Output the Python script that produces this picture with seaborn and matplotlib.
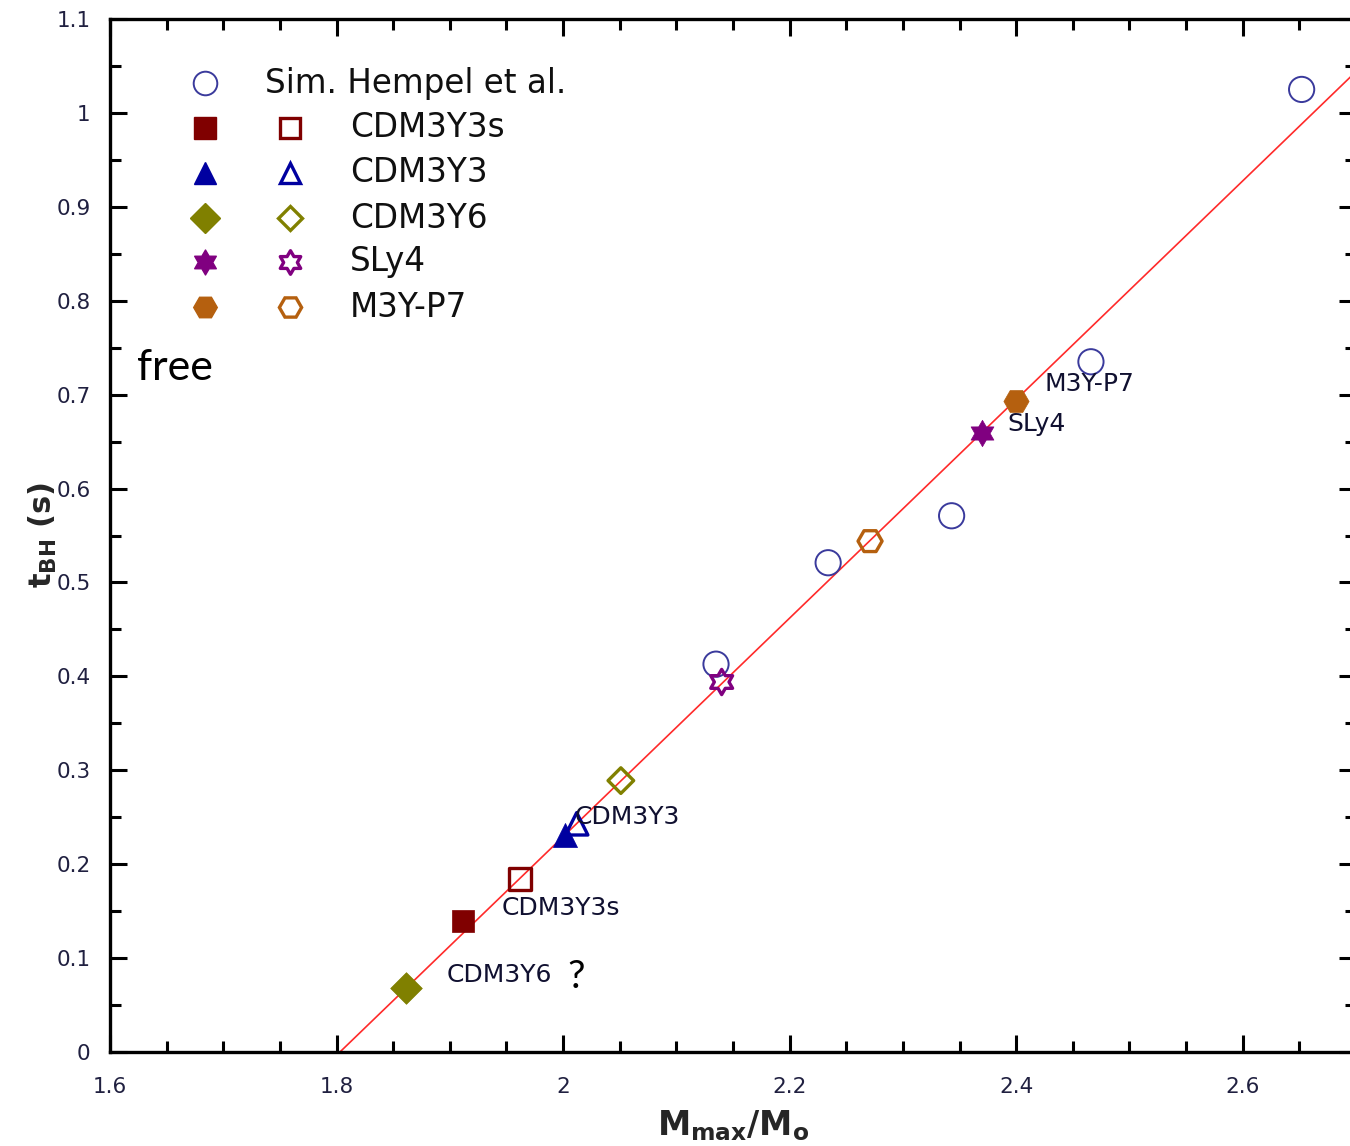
import numpy as np
import pandas as pd
import matplotlib
matplotlib.use("Agg")
import matplotlib.pyplot as plt
from matplotlib.path import Path
import seaborn as sns

# ---------------- data ----------------
hempel_x = [2.135, 2.234, 2.343, 2.466, 2.652]
hempel_y = [0.413, 0.521, 0.571, 0.735, 1.025]

models = ["CDM3Y3s", "CDM3Y3", "CDM3Y6", "SLy4", "M3Y-P7"]
filled_x = [1.912, 2.002, 1.861, 2.370, 2.400]
filled_y = [0.140, 0.231, 0.068, 0.659, 0.693]
open_x = [1.962, 2.012, 2.051, 2.140, 2.271]
open_y = [0.184, 0.243, 0.289, 0.394, 0.544]

fit_x = [1.803, 2.70]
fit_y = [0.0, 1.044]

annot_labels = ["M3Y-P7", "SLy4", "CDM3Y3", "CDM3Y3s", "CDM3Y6"]
annot_x = [2.425, 2.392, 2.010, 1.946, 1.897]
annot_y = [0.711, 0.669, 0.250, 0.153, 0.082]

x_ticks = [1.6, 1.8, 2.0, 2.2, 2.4, 2.6]
x_ticklabels = ["1.6", "1.8", "2", "2.2", "2.4", "2.6"]
y_ticks = [0, 0.1, 0.2, 0.3, 0.4, 0.5, 0.6, 0.7, 0.8, 0.9, 1.0, 1.1]
y_ticklabels = ["0", "0.1", "0.2", "0.3", "0.4", "0.5", "0.6", "0.7", "0.8", "0.9", "1", "1.1"]

# ---------------- style ----------------
sns.set_theme(style="white")
plt.rcParams["font.family"] = ["DejaVu Sans"]

star6 = Path.unit_regular_star(6, 0.58)
colors = {"CDM3Y3s": "#800000", "CDM3Y3": "#0000a0", "CDM3Y6": "#808000",
          "SLy4": "#800080", "M3Y-P7": "#b5600f"}
markers = {"CDM3Y3s": "s", "CDM3Y3": "^", "CDM3Y6": "D", "SLy4": star6, "M3Y-P7": "H"}
sizes = {"CDM3Y3s": 260, "CDM3Y3": 300, "CDM3Y6": 260, "SLy4": 360, "M3Y-P7": 330}
open_sizes = {"CDM3Y3s": 240, "CDM3Y3": 260, "CDM3Y6": 170, "SLy4": 330, "M3Y-P7": 300}
hempel_color = "#3a3a9c"

fig = plt.figure(figsize=(13.5, 11.46), dpi=100)
ax = fig.add_axes([110 / 1350, 1 - 1052 / 1146, 1246 / 1350, 1033 / 1146])

# fit line
sns.lineplot(x=fit_x, y=fit_y, ax=ax, color="#ff2a2a", linewidth=1.2, zorder=1)

# Hempel circles
sns.scatterplot(x=hempel_x, y=hempel_y, ax=ax, marker="o", s=330,
                facecolor="none", edgecolor=hempel_color, linewidth=1.4, zorder=3)

df = pd.DataFrame({"model": models, "fx": filled_x, "fy": filled_y, "ox": open_x, "oy": open_y})
for _, r in df.iterrows():
    m = r["model"]
    sns.scatterplot(x=[r["fx"]], y=[r["fy"]], ax=ax, marker=markers[m], s=sizes[m],
                    color=colors[m], edgecolor=colors[m], linewidth=0.5, zorder=4)
    sns.scatterplot(x=[r["ox"]], y=[r["oy"]], ax=ax, marker=markers[m], s=open_sizes[m],
                    facecolor="none", edgecolor=colors[m], linewidth=2.4, zorder=4)

for lab, xx, yy in zip(annot_labels, annot_x, annot_y):
    ax.text(xx, yy, lab, fontsize=18, color="#101030", va="center", ha="left", zorder=5)
ax.text(2.004, 0.080, "?", fontsize=28, color="black", va="center", ha="left",
        family=["Lato", "DejaVu Sans"])

ax.text(0.0217, 0.662, "free", transform=ax.transAxes, fontsize=31, va="center",
        ha="left", family=["Lato", "DejaVu Sans"], color="black")

# ---------------- manual legend ----------------
leg_rows_y = [0.938, 0.8945, 0.851, 0.807, 0.765, 0.721]
col1, col2, txt_x, txt_x0 = 0.0762, 0.1445, 0.1926, 0.1244
ax.plot([col1], [leg_rows_y[0]], transform=ax.transAxes, marker="o", ms=17,
        mfc="none", mec=hempel_color, mew=1.4, ls="none", clip_on=False)
ax.text(txt_x0, leg_rows_y[0], "Sim. Hempel et al.", transform=ax.transAxes,
        fontsize=23.5, va="center", ha="left", color="#101010")
legend_ms = {"CDM3Y3s": 16, "CDM3Y3": 16, "CDM3Y6": 15, "SLy4": 18, "M3Y-P7": 17}
open_ms = {"CDM3Y3s": 14, "CDM3Y3": 15, "CDM3Y6": 12, "SLy4": 17, "M3Y-P7": 16}
for m, yy in zip(models, leg_rows_y[1:]):
    ax.plot([col1], [yy], transform=ax.transAxes, marker=markers[m], ms=legend_ms[m],
            mfc=colors[m], mec=colors[m], ls="none", clip_on=False)
    ax.plot([col2], [yy], transform=ax.transAxes, marker=markers[m], ms=open_ms[m],
            mfc="none", mec=colors[m], mew=2.4, ls="none", clip_on=False)
    ax.text(txt_x, yy, m, transform=ax.transAxes, fontsize=23.5, va="center",
            ha="left", color="#101010")

# ---------------- axes ----------------
ax.set_xlim(1.6, 2.7)
ax.set_ylim(0, 1.1)
ax.set_xticks(x_ticks)
ax.set_xticklabels(x_ticklabels)
ax.set_yticks(y_ticks)
ax.set_yticklabels(y_ticklabels)
ax.set_xticks(np.arange(1.6, 2.71, 0.05), minor=True)
ax.set_yticks(np.arange(0, 1.101, 0.05), minor=True)
ax.tick_params(which="both", direction="in", top=True, right=True, bottom=True,
               left=True, color="black", labelsize=15.5, labelcolor="#202040")
ax.tick_params(which="major", length=12, width=2.2)
ax.tick_params(which="minor", length=8, width=2.2)
ax.tick_params(axis="x", pad=18)
ax.tick_params(axis="y", pad=14)
for sp in ax.spines.values():
    sp.set_visible(True)
    sp.set_color("black")
    sp.set_linewidth(2.4)

ax.set_xlabel(r"$\mathbf{M_{max}/M_o}$", fontsize=24, labelpad=8)
ax.set_ylabel(r"$\mathbf{t_{BH}}$ (s)", fontsize=22, fontweight="bold", labelpad=-2)
ax.grid(False)

fig.savefig("out.png", dpi=100)
